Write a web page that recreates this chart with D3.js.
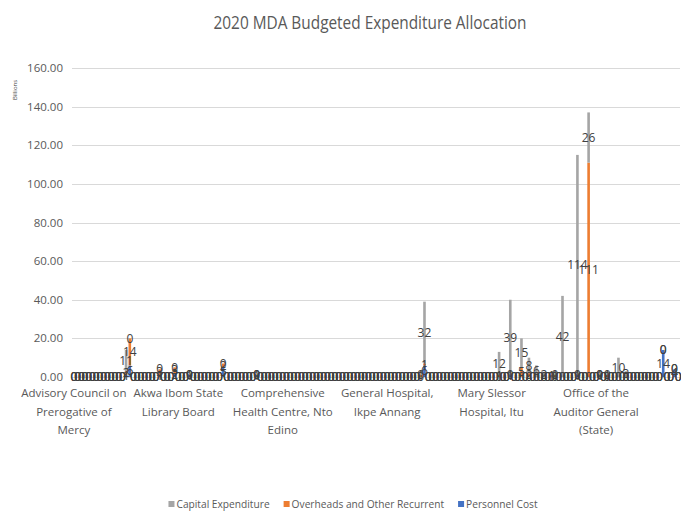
<!DOCTYPE html>
<html>
<head>
<meta charset="utf-8">
<script src="https://cdn.jsdelivr.net/npm/d3@7"></script>
<style>
  body { margin: 0; background: #fff; }
  text { font-family: "Open Sans", "Noto Sans", sans-serif; }
</style>
</head>
<body>
<div id="container"></div>
<script>
/**
 * DATA (billions, one value per MDA, alphabetical order)
 * */
const capital = [
  0,0,0,0,0,0,0,0,0,0, 0,0,0,0,11,0,0,0,0,0,
  0,0,0,0,0,0,0,0,0,0, 0,0,0,0,0,0,0,0,0,0,
  0,0,0,0,0,0,0,0,0,0, 0,0,0,0,0,0,0,0,0,0,
  0,0,0,0,0,0,0,0,0,0, 0,0,0,0,0,0,0,0,0,0,
  0,0,0,0,0,0,0,0,0,0, 0,0,0,0,32,0,0,0,0,0,
  0,0,0,0,0,0,0,0,0,0, 0,0,0,0,12,0,0,39,0,0,
  15,0,8,0,6,0,2,0,1,0, 0,42,0,0,0,114,0,0,26,0,
  0,0,0,0,0,0,10,0,3,0, 0,0,0,0,0,0,0,0,0,0,
  0,0,0
];
const overheads = [
  0,0,0,0,0,0,0,0,0,0, 0,0,0,0,2,14,0,0,0,0,
  0,0,0,3,0,0,0,3,0,0, 0,0,0,0,0,0,0,0,0,0,
  2,0,0,0,0,0,0,0,0,0, 0,0,0,0,0,0,0,0,0,0,
  0,0,0,0,0,0,0,0,0,0, 0,0,0,0,0,0,0,0,0,0,
  0,0,0,0,0,0,0,0,0,0, 0,0,0,1,1,0,0,0,0,0,
  0,0,0,0,0,0,0,0,0,0, 0,0,0,0,1,0,0,0,0,0,
  5,0,2,0,0,0,0,0,0,1, 0,0,0,0,0,0,0,0,111,0,
  0,0,0,1,0,0,0,0,0,0, 0,0,0,0,0,0,0,0,0,0,
  0,0,0
];
const personnel = [
  0,0,0,0,0,0,0,0,0,0, 0,0,0,0,1,6,0,0,0,0,
  0,0,0,1,0,0,0,2,0,0, 0,1,0,0,0,0,0,0,0,0,
  5,0,0,0,0,0,0,0,0,1, 0,0,0,0,0,0,0,0,0,0,
  0,0,0,0,0,0,0,0,0,0, 0,0,0,0,0,0,0,0,0,0,
  0,0,0,0,0,0,0,0,0,0, 0,0,0,0,6,0,0,0,0,0,
  0,0,0,0,0,0,0,0,0,0, 0,0,0,0,0,0,0,1,0,0,
  0,0,0,0,0,0,0,0,0,0, 0,0,0,0,0,1,0,0,0,0,
  0,1,0,0,0,0,0,0,0,0, 0,0,0,0,0,0,0,0,14,0,
  0,4,0
];

// only every 28th category name is printed on the axis
const tickIndex = [0, 28, 56, 84, 112, 140];
const tickLabels = [
  ["Advisory Council on", "Prerogative of", "Mercy"],
  ["Akwa Ibom State", "Library Board"],
  ["Comprehensive", "Health Centre, Nto", "Edino"],
  ["General Hospital,", "Ikpe Annang"],
  ["Mary Slessor", "Hospital, Itu"],
  ["Office of the", "Auditor General", "(State)"]
];
const yTicks = [0, 20, 40, 60, 80, 100, 120, 140, 160];

const seriesNames = ["Capital Expenditure", "Overheads and Other Recurrent", "Personnel Cost"];
const colors = { capital: "#a5a5a5", overheads: "#ed7d31", personnel: "#4472c4" };

/**
 * LAYOUT
 * */
const width = 681, height = 513,
  margin = { top: 68, bottom: 136, left: 72, right: 1 };

const rows = capital.map((d, i) => ({
  i: i, capital: d, overheads: overheads[i], personnel: personnel[i]
}));

const stack = d3.stack().keys(["personnel", "overheads", "capital"]);
const layers = stack(rows);

const x = d3.scaleBand()
  .domain(rows.map(d => d.i))
  .range([margin.left, width - margin.right])
  .paddingInner(0.3)
  .paddingOuter(0.15);

const y = d3.scaleLinear()
  .domain([0, 160])
  .range([height - margin.bottom, margin.top]);

const svg = d3.select("#container")
  .append("svg")
  .attr("width", width)
  .attr("height", height);

// title
svg.append("text")
  .attr("x", 370)
  .attr("y", 29)
  .attr("text-anchor", "middle")
  .attr("font-size", 19)
  .attr("fill", "#595959")
  .attr("textLength", 313)
  .attr("lengthAdjust", "spacingAndGlyphs")
  .text("2020 MDA Budgeted Expenditure Allocation");

// gridlines + y labels
svg.append("g")
  .selectAll("line")
  .data(yTicks)
  .join("line")
  .attr("x1", margin.left)
  .attr("x2", width - margin.right)
  .attr("y1", d => Math.round(y(d)) + 0.5)
  .attr("y2", d => Math.round(y(d)) + 0.5)
  .attr("stroke", "#d9d9d9")
  .attr("stroke-width", 1);

svg.append("g")
  .selectAll("text")
  .data(yTicks)
  .join("text")
  .attr("x", 63)
  .attr("y", d => y(d))
  .attr("dy", "0.35em")
  .attr("text-anchor", "end")
  .attr("font-size", 11.5)
  .attr("fill", "#595959")
  .text(d => d3.format(".2f")(d));

// axis unit title
svg.append("text")
  .attr("transform", "translate(17,90) rotate(-90)")
  .attr("text-anchor", "middle")
  .attr("font-size", 6)
  .attr("fill", "#404040")
  .text("Billions");

// bars
svg.append("g")
  .selectAll("g")
  .data(layers)
  .join("g")
  .attr("fill", d => colors[d.key])
  .selectAll("rect")
  .data(d => d)
  .join("rect")
  .attr("x", d => x(d.data.i))
  .attr("width", x.bandwidth())
  .attr("y", d => y(d[1]))
  .attr("height", d => y(d[0]) - y(d[1]));

// data labels (centre of each segment, zeros included)
svg.append("g")
  .selectAll("g")
  .data(layers)
  .join("g")
  .selectAll("text")
  .data(d => d.map(p => ({ p: p, key: d.key })))
  .join("text")
  .attr("x", d => x(d.p.data.i) + x.bandwidth() / 2)
  .attr("y", d => y((d.p[0] + d.p[1]) / 2))
  .attr("dy", "0.35em")
  .attr("text-anchor", "middle")
  .attr("font-size", 12)
  .attr("fill", "#404040")
  .text(d => Math.round(d.p.data[d.key]));

// category labels
const catG = svg.append("g")
  .selectAll("text")
  .data(tickIndex)
  .join("text")
  .attr("x", d => x(d) + x.bandwidth() / 2)
  .attr("y", 397)
  .attr("text-anchor", "middle")
  .attr("font-size", 11.5)
  .attr("fill", "#595959");

catG.selectAll("tspan")
  .data((d, i) => tickLabels[i])
  .join("tspan")
  .attr("x", function () { return d3.select(this.parentNode).attr("x"); })
  .attr("dy", (d, i) => i === 0 ? 0 : 18.5)
  .text(d => d);

// legend, laid out left to right and centred under the chart
const legendG = svg.append("g");
const legend = legendG.selectAll("g")
  .data(seriesNames)
  .join("g");

legend.append("rect")
  .attr("x", 0)
  .attr("y", -4)
  .attr("width", 6)
  .attr("height", 6)
  .attr("fill", (d, i) => [colors.capital, colors.overheads, colors.personnel][i]);

legend.append("text")
  .attr("x", 8)
  .attr("y", 0)
  .attr("dy", "0.3em")
  .attr("font-size", 10.2)
  .attr("fill", "#595959")
  .text(d => d);

let lx = 0;
legend.each(function () {
  const w = 8 + d3.select(this).select("text").node().getComputedTextLength();
  d3.select(this).attr("transform", `translate(${lx},0)`);
  lx += w + 14;
});
lx -= 14;
legendG.attr("transform", `translate(${353 - lx / 2},505)`);
</script>
</body>
</html>
